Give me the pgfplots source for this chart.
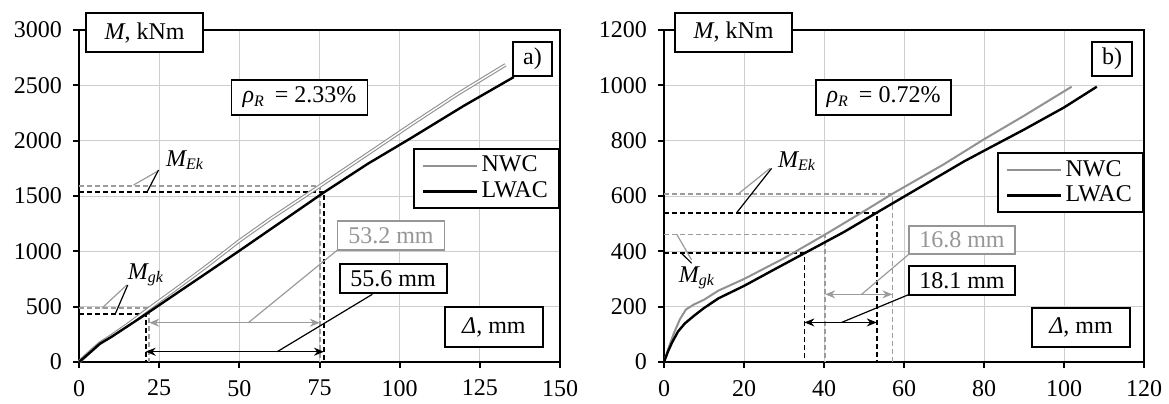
\documentclass[border=0pt]{standalone}
\usepackage{fontspec}
\setmainfont{Liberation Serif}
\usepackage{pgfplots}
\pgfplotsset{compat=1.18}
\usepackage{pgfplotstable}
\usetikzlibrary{arrows.meta}
\definecolor{nwc}{RGB}{145,145,145}
\definecolor{nwcd}{RGB}{155,155,155}
\definecolor{gridc}{RGB}{205,205,205}
\definecolor{gtxt}{RGB}{150,150,150}
\newcommand{\fs}{\fontsize{12}{14}\selectfont}

\pgfplotstableread{
x y
0 0
3 80
6.5 170
10 235
15 335
21.9 485
30 655
40 870
50 1095
60 1300
75.1 1590
90 1880
103.4 2142
118 2420
133 2685
}\nwcA
\pgfplotstableread{
x y
0 0
3 75
6.5 165
10 225
15 320
20.8 431
30 612
40 808
50 1005
60 1205
76.4 1533
90 1790
103.4 2021
120 2315
135.6 2575
}\lwacA
\pgfplotstableread{
x y
0 0
1 45
2.5 105
4 155
5.5 190
7.5 208
10 225
13.6 258
20 300
30 375
40.3 461
50 545
57.1 608
70 715
80 805
90 890
101.9 995
}\nwcB
\pgfplotstableread{
x y
0 0
1 38
2 70
3.5 110
5.25 140
7.75 170
10 195
13.6 230
20 275
27 330
35.1 393
45 470
53.2 540
65 640
75 725
81.5 775
90 840
100 920
108.2 995
}\lwacB

\tikzset{
  box/.style={draw, line width=0.9pt, fill=white, inner sep=0pt, font=\fs},
  gbox/.style={draw=gtxt, line width=0.6pt, fill=white, inner sep=0pt, text=gtxt, font=\fs},
  dg/.style={draw=nwcd, line width=0.9pt, dash pattern=on 2.5pt off 1.5pt},
  db/.style={draw=black, line width=0.9pt, dash pattern=on 2.5pt off 1.5pt},
  ar/.style={line width=0.6pt, {Stealth[length=5pt,width=4pt]}-{Stealth[length=5pt,width=4pt]}},
}
\pgfplotsset{
  panel/.style={
    scale only axis, clip=false, anchor=south west,
    height=166pt,
    font=\fs,
    /pgf/number format/assume math mode=true,
    /pgf/number format/1000 sep={},
    grid=major, grid style={line width=0.5pt, draw=gridc},
    axis line style={line width=1.2pt},
    tick style={line width=1pt, black},
    tick align=outside, major tick length=3pt,
    xtick pos=left, ytick pos=left,
    xticklabel shift=2.5pt, yticklabel shift=2pt,
    legend cell align=left,
    legend style={draw=black, line width=1.2pt, fill=white, inner xsep=4pt, inner ysep=2pt,
      row sep=0.5pt, nodes={inner sep=1.5pt}, font=\fs},
    legend image code/.code={\draw[#1] (0pt,0pt) -- (27pt,0pt);},
  },
}

\begin{document}
\begin{tikzpicture}[x=1pt,y=1pt]
\path[use as bounding box] (0,0) rectangle (584.5,201.5);

% ---------------- panel a ----------------
\begin{axis}[panel, at={(39.5pt,20.5pt)}, width=240.5pt,
  xmin=0, xmax=150, ymin=0, ymax=3000,
  xtick={0,25,50,75,100,125,150}, ytick={0,500,...,3000},
  legend style={at={(rel axis cs:1,0.645)}, anchor=north east}]
  \addplot[dg, forget plot] coordinates {(0,1590) (75.1,1590) (75.1,0)};
  \addplot[db, forget plot] coordinates {(0,1535) (76.4,1535) (76.4,0)};
  \addplot[dg, forget plot] coordinates {(0,485) (21.9,485) (21.9,0)};
  \addplot[db, forget plot] coordinates {(0,431) (20.8,431) (20.8,0)};
  \addplot[ar, nwcd, forget plot] coordinates {(21.9,355) (75.1,355)};
  \addplot[ar, black, forget plot] coordinates {(20.8,93) (76.4,93)};
  \addplot[draw=nwc, line width=0.55pt, double=white, double distance=0.7pt, forget plot] table {\nwcA};
  \addplot[draw=black, line width=1.2pt, forget plot] table {\lwacA};
  \addlegendimage{draw=nwc, line width=1pt}
  \addlegendentry{NWC}
  \addlegendimage{draw=black, line width=1.3pt}
  \addlegendentry{LWAC}
  \draw[nwcd, line width=0.6pt] (axis cs:24.3,1720) -- (axis cs:17.0,1599);
  \draw[black, line width=0.6pt] (axis cs:24.8,1735) -- (axis cs:21.2,1535);
  \draw[nwcd, line width=0.6pt] (axis cs:14.9,696) -- (axis cs:7.1,485);
  \draw[black, line width=0.6pt] (axis cs:15.2,696) -- (axis cs:11.25,431);
  \draw[nwcd, line width=0.6pt] (axis cs:52.8,355) -- (axis cs:80.6,1012);
  \draw[black, line width=0.6pt] (axis cs:61.8,93) -- (axis cs:91.5,612);
  \node[font=\fs] at (axis cs:33.1,1825) {\itshape M\textsubscript{Ek}};
  \node[font=\fs] at (axis cs:20.9,786) {\itshape M\textsubscript{gk}};
  \node[box, minimum width=58.5pt, minimum height=19.5pt] at (axis cs:20.47,2977) {{\itshape M}, kNm};
  \node[box, minimum width=19.5pt, minimum height=17pt] at (axis cs:141.4,2738) {a)};
  \node[box, minimum width=68pt, minimum height=17.5pt] at (axis cs:68.75,2390) {{\itshape ρ\textsubscript{R}}\, = 2.33\%};
  \node[gbox, minimum width=53.5pt, minimum height=14.5pt] at (axis cs:97.3,1143) {53.2 mm};
  \node[box, minimum width=53.5pt, minimum height=14.5pt] at (axis cs:97.97,754.5) {55.6 mm};
  \node[box, minimum width=49pt, minimum height=20pt] at (axis cs:129.4,316) {{\itshape Δ}, mm};
\end{axis}

% ---------------- panel b ----------------
\begin{axis}[panel, at={(332pt,20.5pt)}, width=240pt,
  xmin=0, xmax=120, ymin=0, ymax=1200,
  xtick={0,20,...,120}, ytick={0,200,...,1200},
  legend style={at={(rel axis cs:1,0.6325)}, anchor=north east}]
  \addplot[dg, forget plot] coordinates {(0,608) (57.1,608) (57.1,0)};
  \addplot[db, forget plot] coordinates {(0,540) (53.2,540) (53.2,0)};
  \addplot[dg, forget plot] coordinates {(0,461) (40.3,461) (40.3,0)};
  \addplot[db, forget plot] coordinates {(0,393) (35.1,393) (35.1,0)};
  \addplot[ar, nwcd, forget plot] coordinates {(40.3,244.5) (57.1,244.5)};
  \addplot[ar, black, forget plot] coordinates {(35.1,143) (53.2,143)};
  \addplot[draw=nwc, line width=1pt] table {\nwcB};
  \addlegendentry{NWC}
  \addplot[draw=black, line width=1.2pt] table {\lwacB};
  \addlegendentry{LWAC}
  \draw[nwcd, line width=0.6pt] (axis cs:26.5,700) -- (axis cs:18.6,608);
  \draw[black, line width=0.6pt] (axis cs:26.9,700) -- (axis cs:18.2,540);
  \draw[nwcd, line width=0.6pt] (axis cs:3.2,461) -- (axis cs:6.9,369);
  \draw[black, line width=0.6pt] (axis cs:4.4,393) -- (axis cs:6.9,357);
  \draw[nwcd, line width=0.6pt] (axis cs:49.4,244.5) -- (axis cs:61.25,390);
  \draw[black, line width=0.6pt] (axis cs:44.4,143) -- (axis cs:61.25,244);
  \node[font=\fs] at (axis cs:33.25,726.5) {\itshape M\textsubscript{Ek}};
  \node[font=\fs] at (axis cs:8.25,303.6) {\itshape M\textsubscript{gk}};
  \node[box, minimum width=58.5pt, minimum height=19.5pt] at (axis cs:17.4,1191) {{\itshape M}, kNm};
  \node[box, minimum width=20pt, minimum height=17pt] at (axis cs:112,1095) {b)};
  \node[box, minimum width=67.5pt, minimum height=17.5pt] at (axis cs:54.9,956) {{\itshape ρ\textsubscript{R}}\, = 0.72\%};
  \node[gbox, minimum width=53pt, minimum height=14pt] at (axis cs:74.5,441) {16.8 mm};
  \node[box, minimum width=53pt, minimum height=14.5pt] at (axis cs:74.5,294.6) {18.1 mm};
  \node[box, minimum width=49pt, minimum height=19.5pt] at (axis cs:104.25,124.7) {{\itshape Δ}, mm};
\end{axis}
\end{tikzpicture}
\end{document}
